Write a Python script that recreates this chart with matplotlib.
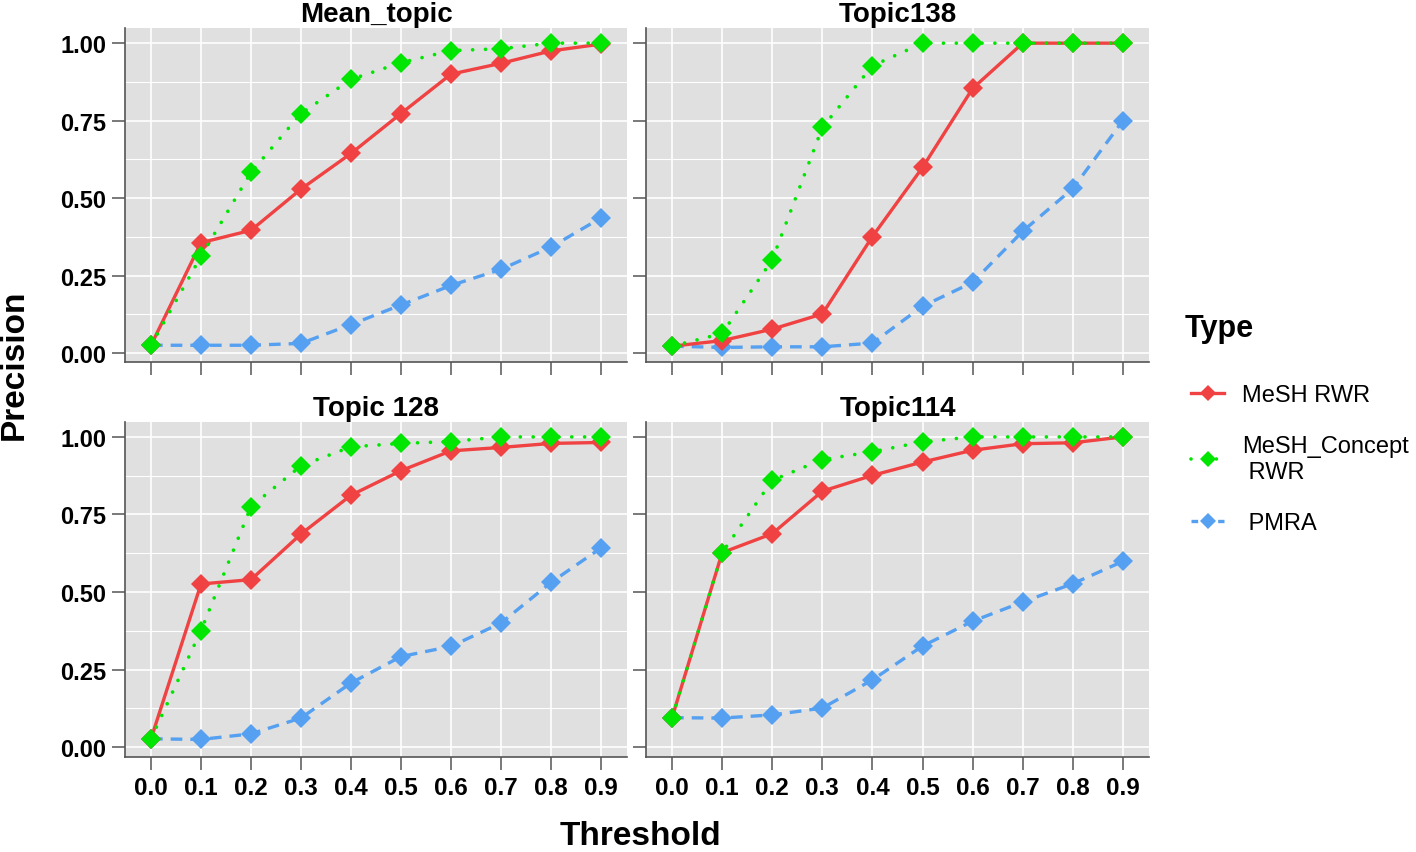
import matplotlib
matplotlib.use("Agg")
import matplotlib.pyplot as plt
from matplotlib.lines import Line2D
from matplotlib.ticker import MultipleLocator

plt.rcParams['font.family'] = ['Liberation Sans', 'DejaVu Sans']

thresholds = [0.0, 0.1, 0.2, 0.3, 0.4, 0.5, 0.6, 0.7, 0.8, 0.9]
x_labels = ["0.0", "0.1", "0.2", "0.3", "0.4", "0.5", "0.6", "0.7", "0.8", "0.9"]
y_ticks = [0.00, 0.25, 0.50, 0.75, 1.00]
y_labels = ["0.00", "0.25", "0.50", "0.75", "1.00"]

panel_titles = ["Mean_topic", "Topic138", "Topic 128", "Topic114"]
series_names = ["MeSH RWR", "MeSH_Concept\n RWR", " PMRA"]

mean_topic_rwr = [0.025, 0.356, 0.396, 0.529, 0.644, 0.773, 0.900, 0.935, 0.975, 0.997]
mean_topic_concept = [0.025, 0.312, 0.583, 0.773, 0.883, 0.937, 0.976, 0.982, 1.0, 1.0]
mean_topic_pmra = [0.025, 0.025, 0.025, 0.031, 0.092, 0.155, 0.218, 0.270, 0.342, 0.436]

topic138_rwr = [0.022, 0.040, 0.077, 0.126, 0.376, 0.599, 0.854, 1.0, 1.0, 1.0]
topic138_concept = [0.022, 0.063, 0.301, 0.728, 0.927, 1.0, 1.0, 1.0, 1.0, 1.0]
topic138_pmra = [0.022, 0.018, 0.020, 0.020, 0.032, 0.151, 0.228, 0.393, 0.531, 0.750]

topic128_rwr = [0.027, 0.526, 0.540, 0.687, 0.812, 0.891, 0.955, 0.966, 0.979, 0.982]
topic128_concept = [0.027, 0.376, 0.775, 0.907, 0.968, 0.979, 0.985, 1.0, 1.0, 1.0]
topic128_pmra = [0.027, 0.025, 0.043, 0.094, 0.207, 0.292, 0.325, 0.400, 0.531, 0.642]

topic114_rwr = [0.095, 0.627, 0.688, 0.825, 0.876, 0.919, 0.957, 0.978, 0.981, 1.0]
topic114_concept = [0.095, 0.627, 0.860, 0.927, 0.952, 0.984, 1.0, 1.0, 1.0, 1.0]
topic114_pmra = [0.095, 0.094, 0.104, 0.126, 0.217, 0.326, 0.406, 0.468, 0.527, 0.599]

panels_data = [
    (mean_topic_rwr, mean_topic_concept, mean_topic_pmra),
    (topic138_rwr, topic138_concept, topic138_pmra),
    (topic128_rwr, topic128_concept, topic128_pmra),
    (topic114_rwr, topic114_concept, topic114_pmra),
]

RED = "#F04242"
GREEN = "#00E600"
BLUE = "#55A0F0"
BG = "#E0E0E0"
AXC = "#555555"

W, H = 1416, 853
fig = plt.figure(figsize=(W / 100, H / 100), dpi=100)

def px_axes(left, top, right, bottom):
    return fig.add_axes([left / W, 1 - bottom / H, (right - left) / W, (bottom - top) / H])

boxes = [
    (125, 29.3, 627, 363.3),
    (646, 29.3, 1149, 363.3),
    (125, 423, 627, 757.5),
    (646, 423, 1149, 757.5),
]

lw = 2.4
ms = 10.0
DOT = (0, (0.01, 3.5))
DASH = (0, (3.5, 2.4))
for i, (box, title, (rwr, concept, pmra)) in enumerate(zip(boxes, panel_titles, panels_data)):
    ax = px_axes(*box)
    ax.set_facecolor(BG)
    ax.plot(thresholds, pmra, color=BLUE, lw=lw, linestyle=DASH,
            marker="D", markersize=ms, markeredgewidth=0, zorder=3)
    ax.plot(thresholds, rwr, color=RED, lw=lw, linestyle="-",
            marker="D", markersize=ms, markeredgewidth=0, zorder=4)
    ax.plot(thresholds, concept, color=GREEN, lw=lw * 1.1, linestyle=DOT,
            dash_capstyle="round", marker="D", markersize=ms, markeredgewidth=0, zorder=5)
    ax.set_xlim(-0.052, 0.952)
    ax.set_ylim(-0.030, 1.048)
    ax.set_xticks(thresholds)
    ax.set_yticks(y_ticks)
    ax.yaxis.set_minor_locator(MultipleLocator(0.125))
    ax.grid(which="major", color="white", lw=1.2, zorder=0)
    ax.grid(which="minor", axis="y", color="white", lw=0.8, zorder=0)
    ax.set_axisbelow(True)
    for s in ["top", "right"]:
        ax.spines[s].set_visible(False)
    for s in ["left", "bottom"]:
        ax.spines[s].set_color(AXC)
        ax.spines[s].set_linewidth(1.2)
    ax.tick_params(axis="y", which="major", length=9.5, width=1.1, color=AXC, pad=4)
    ax.tick_params(axis="x", which="major", length=9, width=1.1, color=AXC, pad=5)
    ax.tick_params(which="minor", length=0)
    if i in (0, 2):
        ax.set_yticklabels(y_labels, fontsize=17, fontweight="bold")
    else:
        ax.set_yticklabels([])
    if i in (2, 3):
        ax.set_xticklabels(x_labels, fontsize=17.5, fontweight="bold")
    else:
        ax.set_xticklabels([])
    ax.set_title(title, fontsize=20, fontweight="bold", pad=5)

fig.text(14 / W, 1 - 365 / H, "Precision", rotation=90, fontsize=24, fontweight="bold",
         ha="center", va="center")
fig.text(640 / W, 1 - 837 / H, "Threshold", fontsize=24, fontweight="bold",
         ha="center", va="center")

fig.text(1185 / W, 1 - 329 / H, "Type", fontsize=22, fontweight="bold",
         ha="left", va="center")
handles = [
    Line2D([], [], color=RED, lw=2.4, linestyle="-", marker="D", markersize=8, markeredgewidth=0),
    Line2D([], [], color=GREEN, lw=2.6, linestyle=DOT, dash_capstyle="round",
           marker="D", markersize=8, markeredgewidth=0),
    Line2D([], [], color=BLUE, lw=2.4, linestyle=(0, (2.0, 2.0)), marker="D", markersize=8,
           markeredgewidth=0),
]
leg = fig.legend(handles, series_names, loc="center left",
                 bbox_to_anchor=(1170 / W, 1 - 460 / H), frameon=False,
                 fontsize=17, handlelength=1.4, handletextpad=0.75, labelspacing=1.25,
                 alignment="left")

fig.savefig("out.png", dpi=100)
